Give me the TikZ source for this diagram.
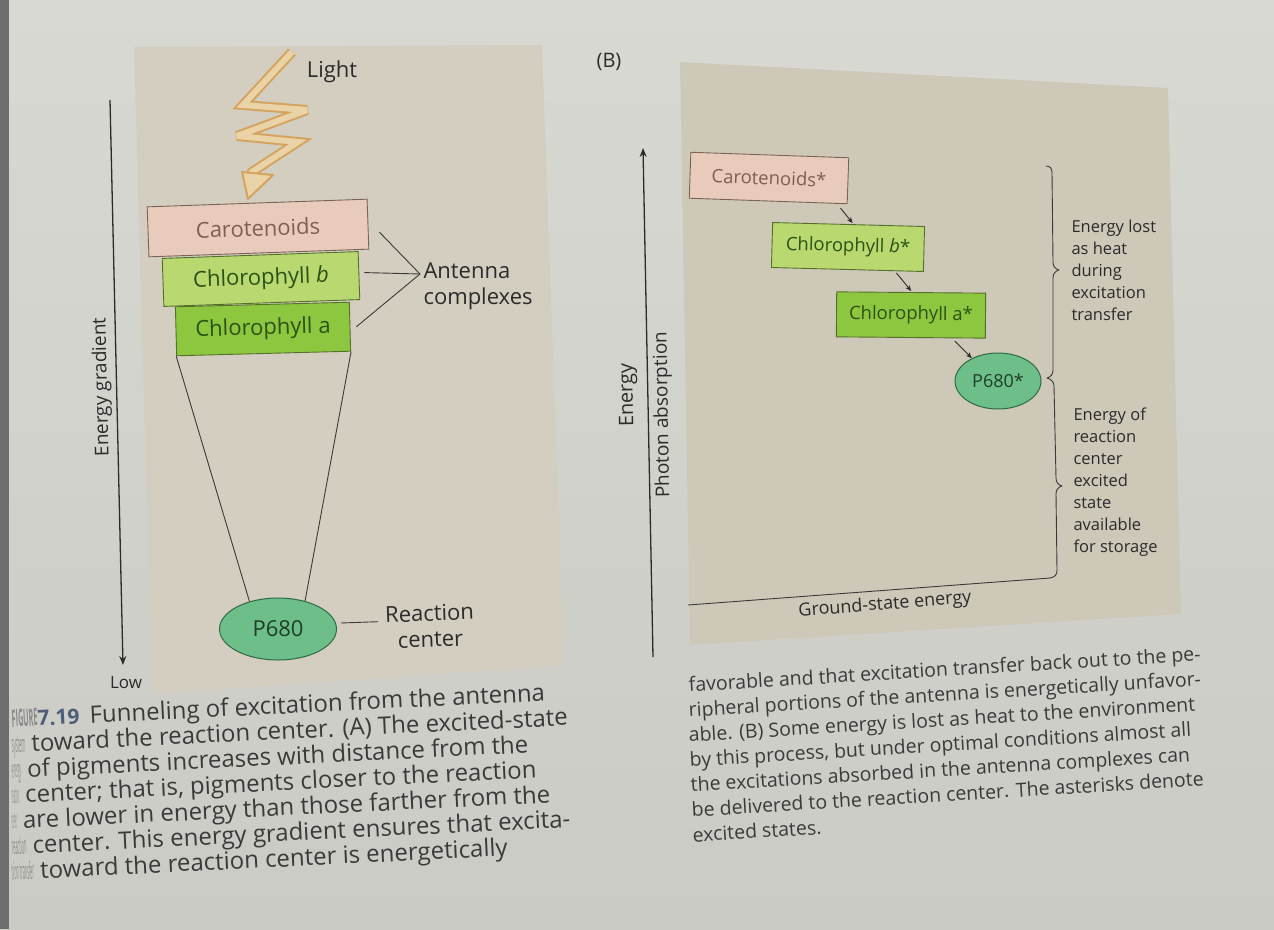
\documentclass[tikz,border=0pt]{standalone}
\usepackage{fontspec}
\setmainfont{Open Sans}
\usetikzlibrary{calc,arrows.meta,shapes.geometric}
\definecolor{page}{HTML}{D9D9D4}
\definecolor{pagedark}{HTML}{CBCBC6}
\definecolor{edgec}{HTML}{6E6E6E}
\definecolor{panelA}{HTML}{D3CEC0}
\definecolor{panelB}{HTML}{CEC8B9}
\definecolor{carofill}{HTML}{E9CBBB}
\definecolor{carodraw}{HTML}{7A6458}
\definecolor{carotext}{HTML}{7E6052}
\definecolor{chlbfill}{HTML}{B9D870}
\definecolor{chlafill}{HTML}{8DC63F}
\definecolor{chldraw}{HTML}{55702A}
\definecolor{chltext}{HTML}{2A5214}
\definecolor{pfill}{HTML}{6DBE88}
\definecolor{pdraw}{HTML}{2E6B45}
\definecolor{ptext}{HTML}{1E3F28}
\definecolor{boltout}{HTML}{D4A35E}
\definecolor{boltin}{HTML}{EAD3A6}
\definecolor{ink}{HTML}{2B2B2B}
\definecolor{capink}{HTML}{3A3A3A}
\definecolor{faint}{HTML}{8A8A8A}
\definecolor{figblue}{HTML}{4E5D78}
\begin{document}
\begin{tikzpicture}[x=1pt,y=-1pt,
  labA/.style={font=\fontsize{22}{26}\selectfont, text=ink},
  labB/.style={font=\fontsize{18.5}{22}\selectfont, text=ink},
  side/.style={font=\fontsize{16.5}{22}\selectfont, text=ink, align=left, anchor=west},
  boxA/.style={draw=chldraw, line width=0.9pt, inner sep=0pt, font=\fontsize{22}{26}\selectfont, text=chltext},
  boxB/.style={draw=chldraw, line width=0.9pt, inner sep=0pt, font=\fontsize{18.5}{22}\selectfont, text=chltext},
  pig/.style={ellipse, draw=pdraw, fill=pfill, line width=1pt, inner sep=0pt, text=ptext},
  thin/.style={draw=capink, line width=0.9pt},
  axis/.style={draw=ink, line width=1.3pt, -{Stealth[length=9pt,width=7pt]}},
  small/.style={draw=ink, line width=0.9pt, -{Stealth[length=6pt,width=5pt]}},
  capA/.style={anchor=base west, rotate=2.8, font=\fontsize{24}{24}\selectfont, text=capink, inner sep=0pt},
  capB/.style={anchor=base west, rotate=3.5, font=\fontsize{19.5}{22}\selectfont, text=capink, inner sep=0pt}]
\useasboundingbox (0,0) rectangle (1274,929);
% page
\shade[top color=page, bottom color=pagedark] (0,0) rectangle (1274,929);
\fill[edgec] (0,0) rectangle (9,929);
% panels
\fill[panelA] (134,47) -- (542,45) -- (564,665) -- (152,694) -- cycle;
\fill[panelB] (680,62) -- (1168,88) -- (1181,614) -- (690,645) -- cycle;

%% ---------- Panel A ----------
\coordinate (axAtop) at (110,100);
\coordinate (axAbot) at (123,665);
\draw[axis] (axAtop) -- (axAbot);
\node[labA, rotate=91.3, font=\fontsize{19}{22}\selectfont] (egrad) at (102,387) {Energy gradient};
\node[labA, font=\fontsize{17}{20}\selectfont] (low) at (126,683) {Low};

% light bolt
\draw[boltout, line width=10pt, line join=miter, miter limit=4]
  (292,52) -- (243,105) -- (307,110) -- (237,136) -- (298,142) -- (252,172) -- (249,182);
\draw[boltin, line width=6pt, line join=miter, miter limit=4]
  (292,52) -- (243,105) -- (307,110) -- (237,136) -- (298,142) -- (252,172) -- (249,182);
\filldraw[fill=boltin, draw=boltout, line width=2pt, line join=round] (242,172) -- (273,175) -- (248,199) -- cycle;
\node[labA] (light) at (332,72) {Light};

% pigment boxes
\node[boxA, fill=carofill, draw=carodraw, text=carotext, minimum width=220pt, minimum height=50pt, rotate=2] (carA) at (258,228) {Carotenoids};
\node[boxA, fill=chlbfill, minimum width=196pt, minimum height=48pt, rotate=2] (chlbA) at (261,279) {Chlorophyll \textit{b}};
\node[boxA, fill=chlafill, minimum width=174pt, minimum height=49pt, rotate=1.5] (chlaA) at (263,329) {Chlorophyll a};

% antenna label
\coordinate (antip) at (420,274);
\node[labA, align=left, anchor=west] (ant) at (420,286) {Antenna\\complexes};
\draw[thin] ($(carA.east)+(11,8)$) -- (antip);
\draw[thin] ($(chlbA.east)+(5,-3)$) -- (antip);
\draw[thin] ($(chlaA.east)+(6,0)$) -- (antip);

% reaction center
\node[pig, minimum width=117pt, minimum height=62pt, font=\fontsize{22}{26}\selectfont] (p680A) at (278,629) {P680};
\draw[thin] (chlaA.south west) -- (p680A.136);
\draw[thin] (chlaA.south east) -- (p680A.46);
\node[labA, align=center, rotate=2] (rc) at (430,626) {Reaction\\center};
\draw[thin] ($(p680A.east)+(4,-6)$) -- ($(rc.west)+(-4,-6)$);

%% ---------- Panel B ----------
\node[labA, font=\fontsize{20}{24}\selectfont] (blab) at (609,62) {(B)};
\coordinate (axBbot) at (653,657);
\coordinate (axBtop) at (643,148);
\draw[axis] (axBbot) -- (axBtop);
\node[labA, rotate=91, font=\fontsize{20}{24}\selectfont] (energy) at (628,395) {Energy};
\node[labA, rotate=91, font=\fontsize{19}{24}\selectfont] (photon) at (663,415) {Photon absorption};

\node[boxB, fill=carofill, draw=carodraw, text=carotext, minimum width=158pt, minimum height=46pt, rotate=-2] (carB) at (769,178) {Carotenoids*};
\node[boxB, fill=chlbfill, minimum width=152pt, minimum height=45pt, rotate=-1.5] (chlbB) at (848,247) {Chlorophyll \textit{b}*};
\node[boxB, fill=chlafill, minimum width=149pt, minimum height=45pt, rotate=-0.5] (chlaB) at (911,315) {Chlorophyll a*};
\node[pig, minimum width=86pt, minimum height=56pt, font=\fontsize{18}{22}\selectfont] (p680B) at (998,381) {P680*};

\draw[small] ($(carB.south east)+(-7,4)$) -- ($(chlbB.north)+(4,-1)$);
\draw[small] ($(chlbB.south)+(49,3)$) -- ($(chlaB.north)+(0,-1)$);
\draw[small] ($(chlaB.south)+(44,3)$) -- (p680B.139);

% braces and ground-state line
\coordinate (gl) at (688,605);
\draw[thin, line join=round]
  (1046,166) .. controls (1050,166) and (1052,168) .. (1052,173) -- (1053,262)
  .. controls (1053,266) and (1055,269) .. (1059,270)
  .. controls (1055,271) and (1053,274) .. (1053,278) -- (1053,370)
  .. controls (1053,374) and (1051,377) .. (1047,378)
  .. controls (1051,379) and (1054,382) .. (1054,386) -- (1056,478)
  .. controls (1056,482) and (1058,485) .. (1062,486)
  .. controls (1058,487) and (1056,490) .. (1056,494) -- (1057,570)
  .. controls (1057,575) and (1055,577) .. (1050,578) -- (gl);
\node[labB, rotate=4.5, font=\fontsize{18}{22}\selectfont] (gs) at (885,605) {Ground-state energy};

\node[side] (lost) at (1068,270) {Energy lost\\as heat\\during\\excitation\\transfer};
\node[side] (stor) at (1070,482) {Energy of\\reaction\\center\\excited\\state\\available\\for storage};

%% ---------- captions ----------
\node[capA] (ca1) at (12,727) {{\color{faint}\bfseries\scalebox{0.3}[1]{FIGURE}}{\bfseries\color{figblue}\fontsize{21}{24}\selectfont 7.19}\, Funneling of excitation from the antenna};
\node[capA] (ca2) at (12,752.5) {{\color{faint}\scalebox{0.17}[1]{system}} toward the reaction center. (A) The excited-state};
\node[capA] (ca3) at (12,778) {{\color{faint}\scalebox{0.12}[1]{energy}} of pigments increases with distance from the};
\node[capA] (ca4) at (12,803.5) {{\color{faint}\scalebox{0.08}[1]{reaction}} center; that is, pigments closer to the reaction};
\node[capA] (ca5) at (12,829) {{\color{faint}\scalebox{0.07}[1]{center}} are lower in energy than those farther from the};
\node[capA] (ca6) at (12,854.5) {{\color{faint}\scalebox{0.16}[1]{reaction}} center. This energy gradient ensures that excita-};
\node[capA] (ca7) at (12,880) {{\color{faint}\scalebox{0.16}[1]{tion transfer}} toward the reaction center is energetically};

\node[capB] (cb1) at (689,692) {favorable and that excitation transfer back out to the pe-};
\node[capB] (cb2) at (689,717) {ripheral portions of the antenna is energetically unfavor-};
\node[capB] (cb3) at (689,742) {able. (B) Some energy is lost as heat to the environment};
\node[capB] (cb4) at (690,767) {by this process, but under optimal conditions almost all};
\node[capB] (cb5) at (691,792) {the excitations absorbed in the antenna complexes can};
\node[capB] (cb6) at (692,817) {be delivered to the reaction center. The asterisks denote};
\node[capB] (cb7) at (693,842) {excited states.};
\end{tikzpicture}
\end{document}
